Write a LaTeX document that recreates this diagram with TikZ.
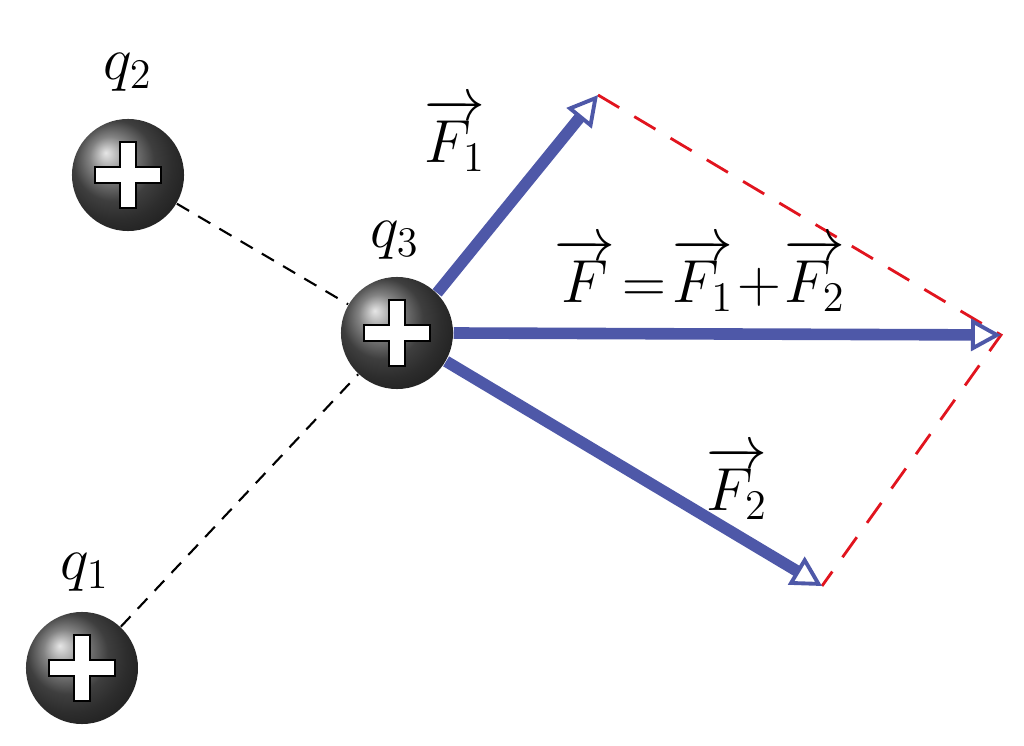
\documentclass[tikz,border=0pt]{standalone}
\usepackage{amsmath}
\usepackage{xcolor}
\usetikzlibrary{arrows.meta,positioning,calc,shadings}
\definecolor{forceblue}{RGB}{78,88,168}
\definecolor{sumred}{RGB}{225,20,30}
\tikzset{
  charge/.style={circle, minimum size=1.12cm, inner sep=0pt, shading=ball, ball color=gray!70!black},
  force/.style={forceblue, line width=3.3pt, -{Triangle[open, length=0.3cm, width=0.32cm, line width=1.1pt]}},
  helper/.style={sumred, dashed, line width=0.8pt, dash pattern=on 7pt off 5pt},
  link/.style={black, dashed, line width=0.6pt, dash pattern=on 4pt off 3pt},
  lbl/.style={font=\fontsize{17}{20}\selectfont}
}
\newcommand{\plussign}[1]{%
  \draw[fill=white, draw=black, line width=0.6pt]
    ($(#1)+(-0.08cm,0.33cm)$) -- ++(0.16cm,0cm) -- ++(0cm,-0.25cm) -- ++(0.25cm,0cm) -- ++(0cm,-0.16cm)
    -- ++(-0.25cm,0cm) -- ++(0cm,-0.25cm) -- ++(-0.16cm,0cm) -- ++(0cm,0.25cm) -- ++(-0.25cm,0cm)
    -- ++(0cm,0.16cm) -- ++(0.25cm,0cm) -- cycle;}
\begin{document}
\begin{tikzpicture}[x=0.01cm, y=-0.01cm]
    \useasboundingbox (0,0) rectangle (1024,746);
    % charges
    \node[charge] (q2) at (128,175) {};
    \node[charge] (q3) at (397,333) {};
    \node[charge] (q1) at (82,668) {};
    \plussign{q2} \plussign{q3} \plussign{q1}
    \node[lbl] (l2) at (128,72) {$q_2$};
    \node[lbl] (l3) at (395,240) {$q_3$};
    \node[lbl] (l1) at (85,572) {$q_1$};
    % lines between charges
    \draw[link] (q2) -- (q3);
    \draw[link] (q1) -- (q3);
    % force tips
    \coordinate (t1) at (598,95);
    \coordinate (t) at (1001,335);
    \coordinate (t2) at (822,586);
    % parallelogram
    \draw[helper] (t1) -- (t) -- (t2);
    % forces
    \draw[force] (q3.45) -- (t1);
    \draw[force] (q3.east) -- (t);
    \draw[force] (q3.-30) -- (t2);
    \node[lbl] (f1) at (455,135) {$\overrightarrow{F_1}$};
    \node[lbl] (f) at (700,275) {$\overrightarrow{F}\!=\!\overrightarrow{F_1}\!+\!\overrightarrow{F_2}$};
    \node[lbl] (f2) at (737,483) {$\overrightarrow{F_2}$};
\end{tikzpicture}
\end{document}
